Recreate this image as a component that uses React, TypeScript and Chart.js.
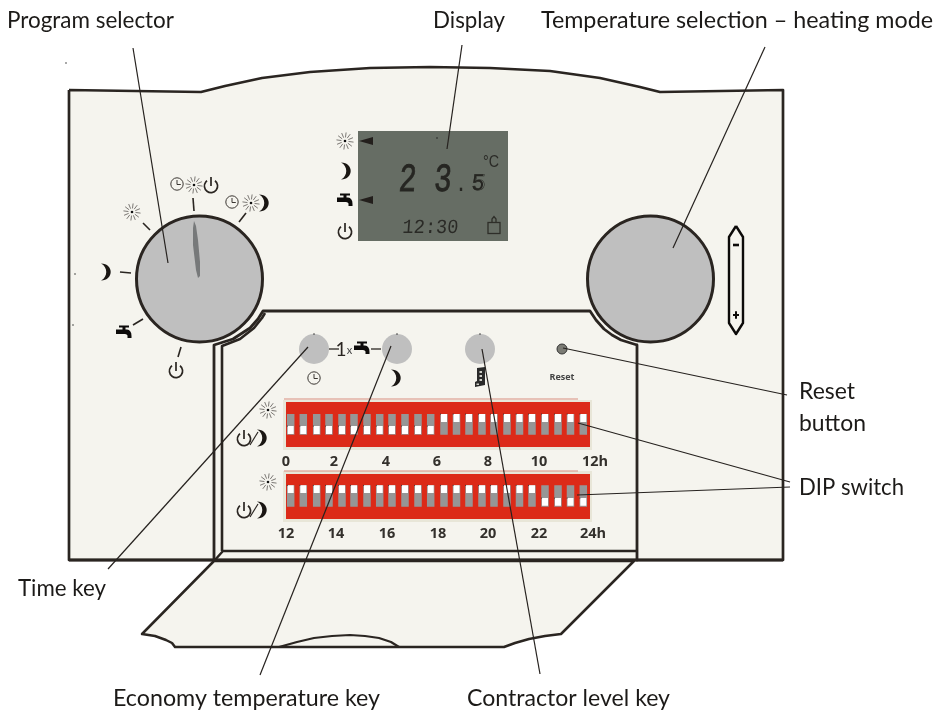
import React, { useEffect, useRef } from "react";
import { Chart, registerables } from "chart.js";

Chart.register(...registerables);

type P = [number, number];

const W = 941;
const H = 711;
const INK = "#2a2521";
const PAPER = "#f5f4ee";
const KNOB = "#bfbfbf";

// ---- Outlines (x, y in picture units) ----
const panelOutline: P[] = [[69, 90], [201, 92], [225, 86], [262, 78], [310, 72], [370, 68], [430, 67], [490, 68], [550, 71], [600, 78], [640, 87], [660, 92], [783, 90], [783, 560], [69, 560], [69, 90]];
const doorOutline: P[] = [[214, 561], [142, 634], [155, 636], [166, 640], [172, 643], [175, 647], [504, 647], [515, 643], [529, 639], [545, 636], [561, 634], [634, 561], [214, 561]];
const doorHump: P[] = [[279, 647], [297, 642], [314, 638], [332, 636], [350, 635], [365, 636], [379, 638], [391, 642], [399, 647]];
const innerOuterLine: P[] = [[214, 560], [214, 345], [233, 339], [250, 328], [258, 319], [263, 311], [590, 311], [596, 320], [604, 329], [612, 335], [621, 340], [637, 345], [637, 560]];
const innerInnerLine: P[] = [[222, 551], [222, 346], [240, 339], [254, 328], [262, 318], [265, 313]];
const innerBottomLine: P[] = [[214, 561], [223, 551], [637, 551]];
const lcdScreen: P[] = [[358, 131], [508, 131], [508, 241], [358, 241], [358, 131]];
const dipRow1Frame: P[] = [[283, 400], [592, 400], [592, 450], [283, 450], [283, 400]];
const dipRow1Red: P[] = [[286, 402], [590, 402], [590, 447], [286, 447], [286, 402]];
const dipRow2Frame: P[] = [[283, 471], [592, 471], [592, 522], [283, 522], [283, 471]];
const dipRow2Red: P[] = [[286, 474], [590, 474], [590, 519], [286, 519], [286, 474]];
const dipTopRules: P[][] = [[[284, 399], [578, 399]], [[284, 471], [578, 471]]];
const dialPointer: P[] = [[194, 221], [196, 226], [198, 240], [200, 262], [200, 276], [198, 278], [196, 270], [193, 245], [193, 228], [194, 221]];
const lcdArrow1: P[] = [[359, 141], [373, 137], [373, 145], [359, 141]];
const lcdArrow2: P[] = [[359, 200], [373, 196], [373, 204], [359, 200]];
const capsule: P[] = [[736, 226], [743, 237], [743, 323], [736, 334], [729, 323], [729, 237], [736, 226]];
const capsuleMinus: P[] = [[733, 245], [739, 245]];
const capsulePlusH: P[] = [[733, 315], [739, 315]];
const capsulePlusV: P[] = [[736, 312], [736, 318]];
const dialTicks: P[][] = [
  [[143, 223], [150, 230]], [[193, 198], [194, 211]], [[246, 213], [239, 222]],
  [[120, 272], [131, 273]], [[143, 319], [133, 325]], [[181, 347], [178, 357]],
];
const keyDashes: P[][] = [[[329, 349], [339, 349]], [[371, 349], [381, 349]]];
const slashes: P[][] = [[[250, 445], [258, 432]], [[250, 517], [258, 504]]];
const leaders: P[][] = [
  [[133, 48], [168, 263]], [[462, 45], [447, 149]], [[765, 47], [673, 248]],
  [[563, 348], [787, 395]], [[578, 423], [790, 482]], [[577, 495], [790, 487]],
  [[108, 569], [308, 347]], [[260, 675], [391, 346]], [[540, 674], [482, 349]],
];
const strayDots: P[] = [[66, 63], [75, 274], [73, 325], [314, 334], [397, 334], [480, 334], [437, 138]];

// ---- Round marks ----
const largeKnobs: P[] = [[199.5, 279], [650.5, 279]];
const smallKeys: P[] = [[314, 349], [397, 349], [480, 349]];
const resetKey: P[] = [[562, 349]];

// ---- DIP switches ----
const switchCentres = [290.7, 303.3, 316.7, 329, 342, 354, 367, 379.7, 392, 405, 418, 430.7, 444, 456.5, 469, 482, 494, 507, 519.5, 532, 545, 558, 570.5, 583.3];
const row1Up = [0, 0, 0, 0, 0, 0, 0, 0, 0, 0, 0, 0, 1, 1, 1, 1, 1, 1, 1, 1, 1, 1, 1, 1];
const row2Up = [1, 1, 1, 1, 1, 1, 1, 1, 1, 1, 1, 1, 1, 1, 1, 1, 1, 1, 1, 1, 0, 0, 0, 0];

// ---- Icons ----
const sunLarge: P[] = [[132, 212], [194, 185], [251, 203], [345, 141], [268, 410], [268, 482]];
const moonIcons: P[] = [[106, 272], [264, 203], [346, 171], [396, 378], [262, 438], [262, 510]];
const tapIcons: P[] = [[124, 333], [345, 201], [362, 349]];
const powerIcons: P[] = [[176, 370], [211, 185], [345, 231], [244, 438], [244, 510]];
const clockIcons: P[] = [[177, 184], [232, 202], [314, 378]];
const contractorIcons: P[] = [[480, 377]];
const lockIcons: P[] = [[494, 225]];

// ---- Text ----
const callouts = ["Program selector", "Display", "Temperature selection \u2013 heating mode", "Reset", "button", "DIP switch", "Time key", "Economy temperature key", "Contractor level key"];
const calloutBoxes: [number, number, number][] = [[7, 28, 167], [433, 28, 72], [541, 28, 392], [799, 399, 56], [799, 431, 67], [799, 495, 105], [18, 596, 88], [113, 706, 267], [467, 706, 203]];
const row1Hours = ["0", "2", "4", "6", "8", "10", "12h"];
const row1HourX = [286, 334, 386, 437, 488, 539, 595];
const row2Hours = ["12", "14", "16", "18", "20", "22", "24h"];
const row2HourX = [286, 336, 387, 438, 488, 539, 593];

function makeIcon(size: number, draw: (c: CanvasRenderingContext2D) => void) {
  const cv = document.createElement("canvas");
  cv.width = size;
  cv.height = size;
  const c = cv.getContext("2d")!;
  c.translate(size / 2, size / 2);
  draw(c);
  return cv;
}
const sunIcon = () => makeIcon(20, (c) => {
  c.strokeStyle = "#5c5854";
  c.lineWidth = 0.8;
  for (let i = 0; i < 12; i++) {
    const a = (i / 12) * Math.PI * 2 + 0.13;
    c.beginPath();
    c.moveTo(Math.cos(a) * 3.6, Math.sin(a) * 3.6);
    c.lineTo(Math.cos(a) * 8.6, Math.sin(a) * 8.6);
    c.stroke();
  }
  c.fillStyle = "#111";
  c.beginPath();
  c.arc(0, 0, 1.3, 0, Math.PI * 2);
  c.fill();
});
const moonIcon = () => makeIcon(20, (c) => {
  c.fillStyle = "#1a1613";
  c.beginPath();
  c.moveTo(-5, -8.5);
  c.bezierCurveTo(8, -8.5, 8, 8.5, -5, 8.5);
  c.bezierCurveTo(2, 5, 2, -5, -5, -8.5);
  c.fill();
});
const tapIcon = () => makeIcon(24, (c) => {
  c.fillStyle = "#0d0b0a";
  c.fillRect(-5, -7.5, 10, 2);
  c.fillRect(-1.5, -7, 3, 4);
  c.beginPath();
  c.moveTo(-8, -3.5);
  c.lineTo(3, -3.5);
  c.quadraticCurveTo(7.5, -3, 7.5, 3);
  c.lineTo(7.5, 5);
  c.lineTo(3.5, 5);
  c.lineTo(3.5, 2.5);
  c.quadraticCurveTo(3, 1, 1, 1);
  c.lineTo(-8, 1);
  c.closePath();
  c.fill();
});
const powerIcon = () => makeIcon(20, (c) => {
  c.strokeStyle = "#2a2521";
  c.lineWidth = 1.7;
  c.beginPath();
  c.arc(0, 1, 6.6, -Math.PI / 2 + 0.65, -Math.PI / 2 - 0.65 + Math.PI * 2);
  c.stroke();
  c.beginPath();
  c.moveTo(0, -8);
  c.lineTo(0, 1);
  c.stroke();
});
const clockIcon = () => makeIcon(16, (c) => {
  c.strokeStyle = "#3a3632";
  c.lineWidth = 1;
  c.beginPath();
  c.arc(0, 0, 6.2, 0, Math.PI * 2);
  c.moveTo(0, -4);
  c.lineTo(0, 0.5);
  c.lineTo(3.8, 0.5);
  c.stroke();
});
const contractorIcon = () => makeIcon(22, (c) => {
  c.fillStyle = "#2a2a2a";
  c.beginPath();
  c.moveTo(-3, -9);
  c.lineTo(5, -10);
  c.lineTo(5, 8);
  c.lineTo(-5, 10);
  c.lineTo(-5, 5);
  c.lineTo(-3, 4);
  c.closePath();
  c.fill();
  c.fillStyle = "#cfcfc8";
  c.fillRect(-0.5, -6, 2.5, 2);
  c.fillRect(-0.5, -2, 2.5, 2);
  c.fillRect(-0.5, 2, 2.5, 2);
  c.fillRect(-3.5, 6.5, 2.5, 1.5);
});
const lockIcon = () => makeIcon(22, (c) => {
  c.strokeStyle = "#2e2e29";
  c.lineWidth = 1.3;
  c.strokeRect(-6, -2.5, 12, 11);
  c.beginPath();
  c.moveTo(-2, -2.5);
  c.lineTo(-2, -6);
  c.lineTo(0, -8.5);
  c.lineTo(2, -6);
  c.lineTo(2, -2.5);
  c.stroke();
});

const pts = (p: P[]) => p.map(([x, y]) => ({ x, y }));
const stroke = (p: P[], color = INK, width = 2) => ({
  data: pts(p), showLine: true, borderColor: color, borderWidth: width, pointRadius: 0, fill: false, tension: 0, borderJoinStyle: "round",
});
const shape = (p: P[], fillColor: string, color = "transparent", width = 0) => ({
  ...stroke(p, color, width), fill: "shape", backgroundColor: fillColor,
});
const dots = (p: P[], radius: number, fillColor: string, color = "transparent", width = 0) => ({
  data: pts(p), showLine: false, pointRadius: radius, backgroundColor: fillColor, borderColor: color, borderWidth: width,
});
const icons = (p: P[], style: HTMLCanvasElement) => ({
  data: pts(p), showLine: false, pointRadius: 5, pointStyle: style,
});
// Switch parts are thick vertical strokes, separated by gaps in the data.
const switchStroke = (ys: (up: number) => [number, number], states: number[], color: string, width: number) => ({
  data: switchCentres.flatMap((x, i) => {
    const [a, b] = ys(states[i]);
    return [{ x, y: a }, { x, y: b }, { x, y: NaN }];
  }),
  showLine: true, borderColor: color, borderWidth: width, pointRadius: 0, spanGaps: false, borderCapStyle: "butt",
});
// Tiny black nicks on the switches' upper-left corners.
const switchNicks = (top: number, low: number, states: number[]) =>
  dots(switchCentres.map((x, i) => [x - 3.4, states[i] ? top : low] as P), 0.5, "#222");

type Txt = { t: string; x: number; y: number; font: string; color: string; align?: CanvasTextAlign; w?: number; skew?: number; fit?: boolean; heavy?: number };

const texts: Txt[] = [
  ...callouts.map((t, i) => ({ t, x: calloutBoxes[i][0], y: calloutBoxes[i][1], w: calloutBoxes[i][2], font: "22.5px Lato", color: "#1c1a18", fit: true })),
  ...row1Hours.map((t, i) => ({ t, x: row1HourX[i], y: 466, font: "bold 14.5px 'Open Sans'", color: "#33302c", align: "center" as CanvasTextAlign })),
  ...row2Hours.map((t, i) => ({ t, x: row2HourX[i], y: 538, font: "bold 14.5px 'Open Sans'", color: "#33302c", align: "center" as CanvasTextAlign })),
  { t: "Reset", x: 562, y: 380, font: "bold 9px 'Open Sans'", color: "#444", align: "center" },
  { t: "1", x: 341, y: 356, font: "19px Lato", color: "#2a2521", align: "center" },
  { t: "x", x: 349.5, y: 354, font: "11px Lato", color: "#444", align: "center" },
  { t: "2 3", x: 398, y: 191, w: 53, font: "40px 'Liberation Mono'", color: "#262622", skew: -0.08, fit: true, heavy: 0.8 },
  { t: ".", x: 456, y: 191, w: 10, font: "bold 22px 'Liberation Mono'", color: "#262622" },
  { t: "5", x: 471, y: 190, w: 13, font: "24px 'Liberation Mono'", color: "#262622", skew: -0.08, heavy: 0.5 },
  { t: "\u00b0C", x: 483, y: 167, w: 16, font: "16px 'Liberation Sans'", color: "#2a2a26" },
  { t: "12:30", x: 402, y: 233, w: 56, font: "20px 'Liberation Mono'", color: "#2a2a26", skew: -0.08 },
];

const textPlugin = {
  id: "diagramText",
  afterDatasetsDraw(chart: any) {
    const { ctx, scales } = chart;
    for (const l of texts) {
      ctx.save();
      const px = scales.x.getPixelForValue(l.x);
      const py = scales.y.getPixelForValue(l.y);
      ctx.translate(px, py);
      if (l.skew) ctx.transform(1, 0, l.skew, 1, 0, 0);
      ctx.font = l.font;
      ctx.fillStyle = l.color;
      ctx.textAlign = l.align ?? "left";
      ctx.textBaseline = "alphabetic";
      if (l.fit && l.w) {
        ctx.scale(l.w / ctx.measureText(l.t).width, 1);
        ctx.fillText(l.t, 0, 0);
      } else if (l.w) ctx.fillText(l.t, 0, 0, l.w);
      else ctx.fillText(l.t, 0, 0);
      if (l.heavy) {
        ctx.strokeStyle = l.color;
        ctx.lineWidth = l.heavy;
        ctx.strokeText(l.t, 0, 0);
      }
      ctx.restore();
    }
  },
};

export default function App() {
  const ref = useRef<HTMLCanvasElement>(null);
  useEffect(() => {
    const layers: any[] = [
      shape(panelOutline, PAPER, INK, 2.7),
      shape(doorOutline, PAPER, INK, 2.5),
      stroke(doorHump, INK, 2.2),
      stroke(innerOuterLine, INK, 2.8),
      stroke(innerInnerLine, INK, 2.6),
      stroke(innerBottomLine, INK, 2.4),
      stroke([[69, 560], [783, 560]], INK, 2.8),
      shape(lcdScreen, "#666d64"),
      shape(dipRow1Frame, "#e8e6d8"),
      shape(dipRow2Frame, "#e8e6d8"),
      shape(dipRow1Red, "#dc2a18"),
      shape(dipRow2Red, "#dc2a18"),
      ...dipTopRules.map((r) => stroke(r, "#d98f80", 1)),
      switchStroke(() => [414, 434.7], row1Up, "#969696", 7.5),
      switchStroke((u) => (u ? [414, 422] : [426, 434]), row1Up, "#ffffff", 6),
      switchStroke(() => [485.3, 506.7], row2Up, "#969696", 7.5),
      switchStroke((u) => (u ? [485.3, 493] : [498, 505.7]), row2Up, "#ffffff", 6),
      switchNicks(414, 426, row1Up),
      switchNicks(485.3, 498, row2Up),
      dots(largeKnobs, 63, KNOB, INK, 3),
      shape(dialPointer, "#77797a"),
      dots(smallKeys, 15, KNOB),
      dots(resetKey, 5, "#7b7b74", "#333", 1),
      ...dialTicks.map((t) => stroke(t, INK, 1.6)),
      ...keyDashes.map((t) => stroke(t, "#3a3632", 1.4)),
      ...slashes.map((t) => stroke(t, "#2a2521", 1.2)),
      shape(lcdArrow1, "#231f1c"),
      shape(lcdArrow2, "#231f1c"),
      shape(capsule, PAPER, "#0c0a09", 2.4),
      stroke(capsuleMinus, "#0c0a09", 2.6),
      stroke(capsulePlusH, "#0c0a09", 2),
      stroke(capsulePlusV, "#0c0a09", 2),
      icons(sunLarge, sunIcon()),
      icons(moonIcons, moonIcon()),
      icons(tapIcons, tapIcon()),
      icons(powerIcons, powerIcon()),
      icons(clockIcons, clockIcon()),
      icons(contractorIcons, contractorIcon()),
      icons(lockIcons, lockIcon()),
      dots(strayDots, 0.7, "#111"),
      ...leaders.map((l) => stroke(l, "#26221f", 1.2)),
    ];
    const chart = new Chart(ref.current!, {
      type: "scatter",
      data: { datasets: layers.reverse() },
      options: {
        animation: false,
        responsive: false,
        events: [],
        layout: { padding: 0, autoPadding: false },
        plugins: { legend: { display: false }, tooltip: { enabled: false }, title: { display: false } },
        scales: {
          x: { type: "linear", min: 0, max: W, display: false },
          y: { type: "linear", min: 0, max: H, reverse: true, display: false },
        },
      },
      plugins: [textPlugin],
    } as any);
    return () => chart.destroy();
  }, []);
  return (
    <div style={{ position: "fixed", left: 0, top: 0, width: W, height: H, background: "#fff" }}>
      <canvas ref={ref} width={W} height={H} style={{ display: "block", width: W, height: H }} />
    </div>
  );
}
